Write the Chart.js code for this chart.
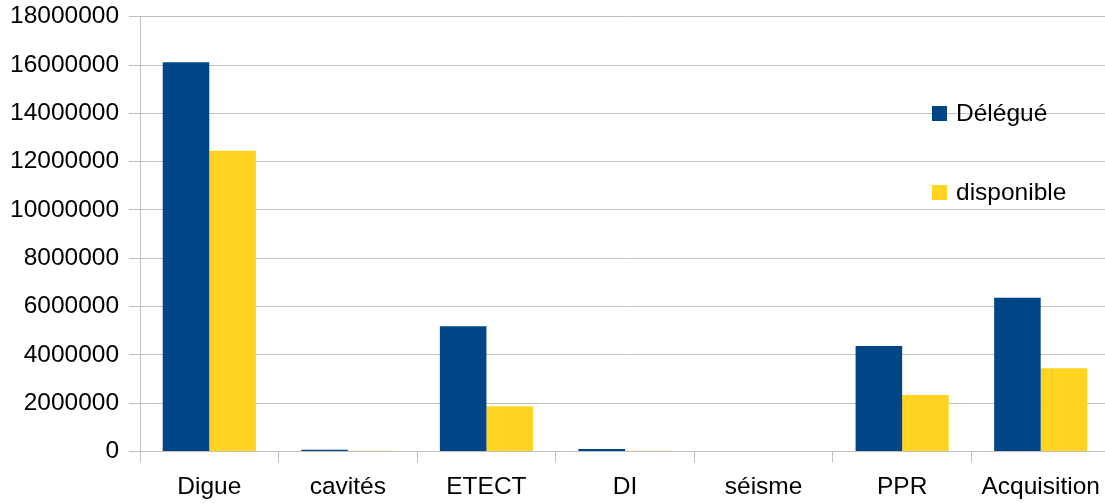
<!DOCTYPE html>
<html>
<head>
<meta charset="utf-8">
<script src="https://cdn.jsdelivr.net/npm/chart.js@4/dist/chart.umd.min.js"></script>
<style>
  html, body { margin: 0; padding: 0; background: #fff; overflow: hidden; width: 1105px; height: 503px; }
  #wrap { position: relative; width: 1105px; height: 503px; overflow: hidden; }
  #c { position: absolute; left: 0; top: -8px; }
  #legend { position: absolute; left: 932px; top: 100px; font-family: "Liberation Sans", Arial, sans-serif; font-size: 24.5px; color: #000; }
  .item { display: flex; align-items: center; height: 26px; margin-bottom: 53px; white-space: nowrap; }
  .sw { width: 15px; height: 15px; margin-right: 9px; flex: none; }
</style>
</head>
<body>
<div id="wrap">
  <canvas id="c" width="1110" height="521"></canvas>
  <div id="legend"></div>
</div>
<script>
const categories = ['Digue', 'cavités', 'ETECT', 'DI', 'séisme', 'PPR', 'Acquisition'];
const delegue = [16110000, 80000, 5190000, 110000, 0, 4370000, 6370000];
const disponible = [12455000, 35000, 1880000, 40000, 0, 2340000, 3450000];
const yTicks = [0, 2000000, 4000000, 6000000, 8000000, 10000000, 12000000, 14000000, 16000000, 18000000];
const seriesNames = ['Délégué', 'disponible'];
const seriesColors = ['#004586', '#ffd320'];

const FONT = { family: '"Liberation Sans", Arial, sans-serif', size: 24.5 };
const GRID = '#c0c0c0';

const chart = new Chart(document.getElementById('c'), {
  type: 'bar',
  data: {
    labels: categories,
    datasets: [
      { label: seriesNames[0], data: delegue, backgroundColor: seriesColors[0], borderWidth: 0 },
      { label: seriesNames[1], data: disponible, backgroundColor: seriesColors[1], borderWidth: 0 }
    ]
  },
  options: {
    responsive: false,
    animation: false,
    devicePixelRatio: 1,
    layout: { padding: { left: 0, top: 0, right: 0, bottom: 1 } },
    plugins: { legend: { display: false }, tooltip: { enabled: false } },
    datasets: { bar: { categoryPercentage: 0.672, barPercentage: 1.0 } },
    scales: {
      x: {
        grid: { display: true, drawOnChartArea: false, drawTicks: true, tickLength: 11, color: GRID, offset: true },
        border: { display: true, color: GRID },
        ticks: { color: '#000', font: FONT, padding: 10, maxRotation: 0, autoSkip: false }
      },
      y: {
        min: 0, max: 18000000,
        afterBuildTicks: (scale) => { scale.ticks = yTicks.map(v => ({ value: v })); },
        grid: { color: GRID, tickLength: 11, drawTicks: true },
        border: { display: true, color: GRID },
        ticks: { color: '#000', font: FONT, padding: 10, callback: (v) => String(v) }
      }
    }
  }
});

const legend = document.getElementById('legend');
chart.data.datasets.forEach(ds => {
  const it = document.createElement('div');
  it.className = 'item';
  const sw = document.createElement('span');
  sw.className = 'sw';
  sw.style.background = ds.backgroundColor;
  const tx = document.createElement('span');
  tx.textContent = ds.label;
  it.appendChild(sw); it.appendChild(tx);
  legend.appendChild(it);
});
</script>
</body>
</html>
